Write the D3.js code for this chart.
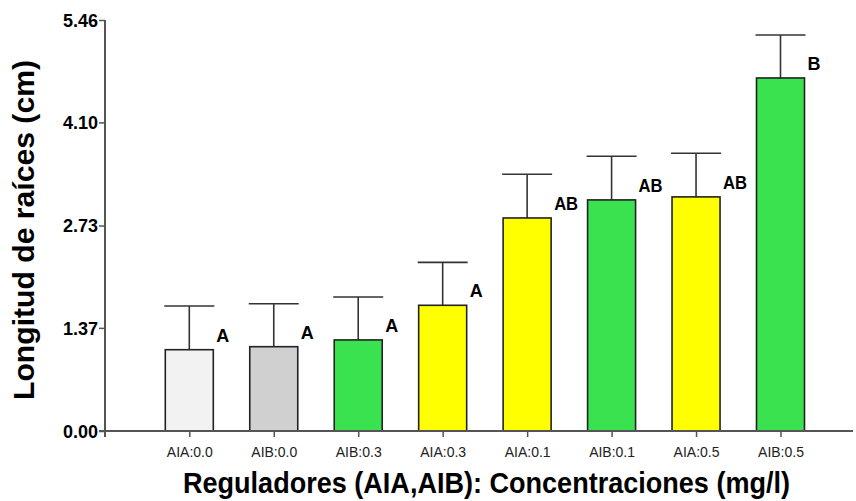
<!DOCTYPE html>
<html>
<head>
<meta charset="utf-8">
<script src="https://cdn.jsdelivr.net/npm/d3@7"></script>
<style>
  html, body { margin: 0; padding: 0; background: #ffffff; }
  svg { display: block; font-family: "Liberation Sans", Arial, sans-serif; }
</style>
</head>
<body>
<svg id="chart" width="856" height="501"></svg>
<script>
// Root length by growth regulator treatment
const categories = ["AIA:0.0", "AIB:0.0", "AIB:0.3", "AIA:0.3", "AIA:0.1", "AIB:0.1", "AIA:0.5", "AIB:0.5"];
const means      = [1.08, 1.12, 1.21, 1.67, 2.83, 3.07, 3.11, 4.69];
const errors     = [0.58, 0.57, 0.57, 0.57, 0.58, 0.58, 0.58, 0.57];
const groups     = ["A", "A", "A", "A", "AB", "AB", "AB", "B"];
const yTicks     = [0, 1.37, 2.73, 4.10, 5.46];

const data = categories.map((c, i) => ({ cat: c, mean: means[i], err: errors[i], group: groups[i] }));

const svg = d3.select("#chart");

const x = d3.scalePoint().domain(categories).range([189.3, 780.5]);
const y = d3.scaleLinear().domain([0, 5.46]).range([431, 20]);
const barW = 48;

const fill = d3.scaleOrdinal()
  .domain(categories)
  .range(["#f2f2f2", "#d0d0d0", "#3ae250", "#ffff00", "#ffff00", "#3ae250", "#ffff00", "#3ae250"]);

// error bars (upper only), drawn beneath the bars
const eb = svg.append("g").attr("stroke", "#333").attr("stroke-width", 1.6);
eb.selectAll("line.v").data(data).join("line")
  .attr("class", "v")
  .attr("x1", d => x(d.cat)).attr("x2", d => x(d.cat))
  .attr("y1", d => y(d.mean)).attr("y2", d => y(d.mean + d.err));
eb.selectAll("line.cap").data(data).join("line")
  .attr("class", "cap")
  .attr("x1", d => x(d.cat) - barW / 2 - 1).attr("x2", d => x(d.cat) + barW / 2 + 1)
  .attr("y1", d => y(d.mean + d.err)).attr("y2", d => y(d.mean + d.err));

// bars
svg.append("g").selectAll("rect").data(data).join("rect")
  .attr("x", d => x(d.cat) - barW / 2)
  .attr("y", d => y(d.mean))
  .attr("width", barW)
  .attr("height", d => y(0) - y(d.mean))
  .attr("fill", d => fill(d.cat))
  .attr("stroke", "#222")
  .attr("stroke-width", 1.6);

// significance letters
svg.append("g").selectAll("text").data(data).join("text")
  .attr("x", d => x(d.cat) + 27)
  .attr("y", d => y(d.mean) - 8)
  .attr("font-size", 19)
  .attr("font-weight", "bold")
  .attr("fill", "#000")
  .attr("textLength", d => d.group.length === 1 ? 13 : 24)
  .attr("lengthAdjust", "spacingAndGlyphs")
  .text(d => d.group);

// y axis
const yAxis = d3.axisLeft(y).tickValues(yTicks).tickFormat(d3.format(".2f")).tickSize(6).tickPadding(1);
const gy = svg.append("g").attr("transform", "translate(105,0)").call(yAxis);
gy.select(".domain").remove();
gy.selectAll(".tick line").attr("stroke", "#555").attr("stroke-width", 1.5);
gy.selectAll(".tick text")
  .attr("font-size", 18).attr("font-weight", "bold").attr("fill", "#000")
  .attr("font-family", "Liberation Sans, Arial, sans-serif")
  .attr("dy", "0.36em");
svg.append("line").attr("x1", 105).attr("x2", 105).attr("y1", y(5.46)).attr("y2", 437)
  .attr("stroke", "#555").attr("stroke-width", 2);

// x axis
const xAxis = d3.axisBottom(x).tickSize(6).tickPadding(10);
const gx = svg.append("g").attr("transform", `translate(0,${y(0)})`).call(xAxis);
gx.select(".domain").remove();
gx.selectAll(".tick line").attr("stroke", "#555").attr("stroke-width", 1.5);
gx.selectAll(".tick text")
  .attr("font-size", 14).attr("fill", "#222")
  .attr("font-family", "Liberation Sans, Arial, sans-serif");
svg.append("line").attr("x1", 99).attr("x2", 853).attr("y1", y(0)).attr("y2", y(0))
  .attr("stroke", "#555").attr("stroke-width", 2);

// axis titles
svg.append("text")
  .attr("x", 486.5).attr("y", 493)
  .attr("text-anchor", "middle")
  .attr("font-size", 29).attr("font-weight", "bold").attr("fill", "#000")
  .attr("textLength", 607).attr("lengthAdjust", "spacingAndGlyphs")
  .text("Reguladores (AIA,AIB): Concentraciones (mg/l)");

svg.append("text")
  .attr("transform", "translate(34,230) rotate(-90)")
  .attr("text-anchor", "middle")
  .attr("font-size", 29).attr("font-weight", "bold").attr("fill", "#000")
  .attr("textLength", 340).attr("lengthAdjust", "spacingAndGlyphs")
  .text("Longitud de raíces (cm)");
</script>
</body>
</html>
